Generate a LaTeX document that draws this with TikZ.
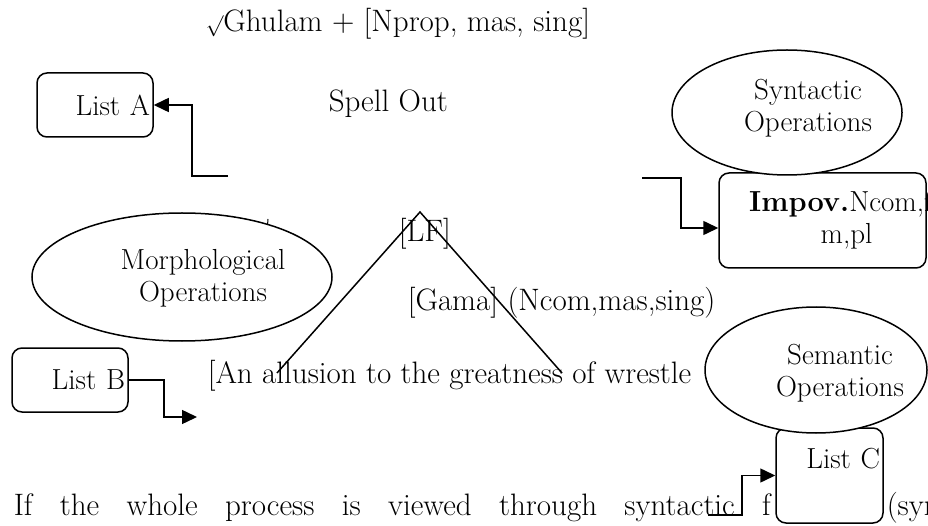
\documentclass[tikz,border=0pt]{standalone}
\usepackage{graphicx}
\usetikzlibrary{shapes.geometric,arrows.meta,positioning}

\begin{document}
\begin{tikzpicture}[
    x=1pt, y=-1pt,
    >={Triangle[length=15pt,width=14pt]},
    line width=1.5pt,
    bigtext/.style={font=\fontsize{31}{37}\selectfont, inner sep=0pt},
    optext/.style={font=\fontsize{29}{32}\selectfont, align=center, inner sep=0pt},
    listbox/.style={rectangle, rounded corners=10pt, draw, fill=white, minimum width=116pt, minimum height=64pt, text width=110pt, align=right, inner sep=3pt, font=\fontsize{29}{32}\selectfont},
    opellipse/.style={ellipse, draw, fill=white, inner sep=0pt},
    elbow/.style={->, line width=1.5pt}
]
\useasboundingbox (0,0) rectangle (928,526);

% derivation text
\node[bigtext, anchor=base west] (root) at (205,32) {\scalebox{0.85}{$\surd$}Ghulam + [Nprop, mas, sing]};
\node[bigtext, anchor=base west] (spell) at (328,112) {Spell Out};
\node[bigtext, anchor=base west] (lf) at (398,242) {[LF]};
\node[bigtext, anchor=base west] (gama) at (407,311) {[Gama] (Ncom,mas,sing)};
\node[bigtext, anchor=base west] (allusion) at (207,383) {[An allusion to the greatness of wrestle};
\node[bigtext, anchor=base west] (para) at (13,515) {\makebox[757pt][s]{If the whole process is viewed through syntactic f}};
\node[bigtext, anchor=base west] (syn) at (886,515) {(syn};

% stray tick left of the LF tree
\draw[line width=1pt] (268,219) -- (267,232);

% LF tree
\coordinate (apex) at (420,212);
\coordinate (leftFoot) at (277,373);
\coordinate (rightFoot) at (562,373);
\draw (leftFoot) -- (apex) -- (rightFoot);

% lists
\node[listbox] (listA) at (95,105) {List A};
\node[listbox] (listB) at (70,380) {List B};
\node[listbox, minimum width=107pt, minimum height=95pt, text width=101pt, text height=20pt, text depth=35pt] (listC) at (829.5,475.5) {List C};
\node[listbox, minimum width=207pt, minimum height=95pt] (impov) at (822.5,220.5) {};
\node[optext] (impovText) at ([xshift=24pt]impov.center) {\textbf{Impov.}Ncom,fe\\m,pl};

% operations
\node[opellipse, minimum width=230pt, minimum height=125pt] (synOp) at (787,112.5) {};
\node[optext] (synOpText) at ([xshift=21pt, yshift=4.5pt]synOp.center) {Syntactic\\Operations};
\node[opellipse, minimum width=300pt, minimum height=128pt] (morphOp) at (182,277) {};
\node[optext] (morphOpText) at ([xshift=21pt, yshift=-1.5pt]morphOp.center) {Morphological\\Operations};
\node[opellipse, minimum width=222pt, minimum height=126pt] (semOp) at (816,370) {};
\node[optext] (semOpText) at ([xshift=24pt, yshift=-3pt]semOp.center) {Semantic\\Operations};

% elbow connectors
\coordinate (aFrom) at (228,176);
\draw[elbow] (aFrom) -- ++(-36,0) |- (listA.east);
\coordinate (impovFrom) at (642,178);
\draw[elbow] (impovFrom) -- ++(39,0) |- ([yshift=-7.5pt]impov.west);
\coordinate (bTo) at (197,417);
\draw[elbow] (listB.east) -- ++(35,0) |- (bTo);
\coordinate (cFrom) at (708,515);
\draw[elbow] (cFrom) -- ++(34,0) |- (listC.west);

\end{tikzpicture}
\end{document}
